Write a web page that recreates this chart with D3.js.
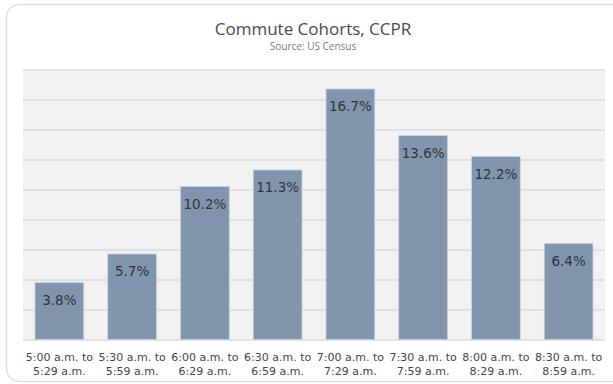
<!DOCTYPE html>
<html>
<head>
<meta charset="utf-8">
<script src="https://cdn.jsdelivr.net/npm/d3@7"></script>
<style>
  html, body { margin: 0; padding: 0; background: #fff; }
  svg { display: block; }
</style>
</head>
<body>
<svg id="chart" width="613" height="384"></svg>
<script>
// Commute start-time cohorts (share of commuters)
const categories = [
  ["5:00 a.m. to", "5:29 a.m."],
  ["5:30 a.m. to", "5:59 a.m."],
  ["6:00 a.m. to", "6:29 a.m."],
  ["6:30 a.m. to", "6:59 a.m."],
  ["7:00 a.m. to", "7:29 a.m."],
  ["7:30 a.m. to", "7:59 a.m."],
  ["8:00 a.m. to", "8:29 a.m."],
  ["8:30 a.m. to", "8:59 a.m."]
];
const shares = [3.8, 5.7, 10.2, 11.3, 16.7, 13.6, 12.2, 6.4];
const yTicks = [0, 2, 4, 6, 8, 10, 12, 14, 16, 18];

const svg = d3.select("#chart");
const plot = { left: 23, right: 605, top: 69.5, bottom: 339.5 };

// card frame
svg.append("rect")
  .attr("x", 6.5).attr("y", 4.5)
  .attr("width", 640).attr("height", 377)
  .attr("rx", 13).attr("ry", 13)
  .attr("fill", "#fff")
  .attr("stroke", "#dedede")
  .attr("stroke-width", 1.5);

// titles
svg.append("text")
  .attr("x", 313).attr("y", 35)
  .attr("text-anchor", "middle")
  .attr("font-family", "'Open Sans', sans-serif")
  .attr("font-size", 17)
  .attr("fill", "#4a4a4a")
  .text("Commute Cohorts, CCPR");
svg.append("text")
  .attr("x", 313).attr("y", 50)
  .attr("text-anchor", "middle")
  .attr("font-family", "'Open Sans', sans-serif")
  .attr("font-size", 10)
  .attr("fill", "#7a7a7a")
  .text("Source: US Census");

const x = d3.scaleBand()
  .domain(d3.range(categories.length))
  .range([plot.left, plot.right])
  .paddingInner(0.33)
  .paddingOuter(0.165);

const y = d3.scaleLinear()
  .domain([0, 18])
  .range([plot.bottom, plot.top]);

// plot background
svg.append("rect")
  .attr("x", plot.left).attr("y", plot.top)
  .attr("width", plot.right - plot.left)
  .attr("height", plot.bottom - plot.top)
  .attr("fill", "#f1f1f1");

// gridlines
const yAxis = d3.axisLeft(y)
  .tickValues(yTicks)
  .tickSize(-(plot.right - plot.left))
  .tickFormat("");
const ga = svg.append("g")
  .attr("transform", `translate(${plot.left},0)`)
  .call(yAxis);
ga.select(".domain").remove();
ga.selectAll(".tick line")
  .attr("stroke", "#dadada")
  .attr("stroke-width", 1.5);

// bars
svg.append("g").selectAll("rect")
  .data(shares)
  .join("rect")
  .attr("x", (d, i) => x(i))
  .attr("y", d => y(d))
  .attr("width", x.bandwidth())
  .attr("height", d => y(0) - y(d))
  .attr("fill", "#8195ae")
  .attr("stroke", "#c9d1dc")
  .attr("stroke-width", 0.8);

// value labels inside bar tops
svg.append("g").selectAll("text")
  .data(shares)
  .join("text")
  .attr("x", (d, i) => x(i) + x.bandwidth() / 2)
  .attr("y", d => y(d) + 22)
  .attr("text-anchor", "middle")
  .attr("font-family", "'DejaVu Sans', sans-serif")
  .attr("font-size", 13.5)
  .attr("fill", "#333")
  .text(d => d.toFixed(1) + "%");

// category labels
const xAxis = d3.axisBottom(x).tickSize(0).tickFormat("");
const gx = svg.append("g")
  .attr("transform", `translate(0,${plot.bottom})`)
  .call(xAxis);
gx.select(".domain").remove();
gx.selectAll(".tick").each(function(i) {
  const t = d3.select(this).append("text")
    .attr("text-anchor", "middle")
    .attr("font-family", "'DejaVu Sans', sans-serif")
    .attr("font-size", 11)
    .attr("fill", "#444");
  categories[i].forEach((line, k) => {
    t.append("tspan").attr("x", 0).attr("y", 21 + k * 14.5).text(line);
  });
});
</script>
</body>
</html>
